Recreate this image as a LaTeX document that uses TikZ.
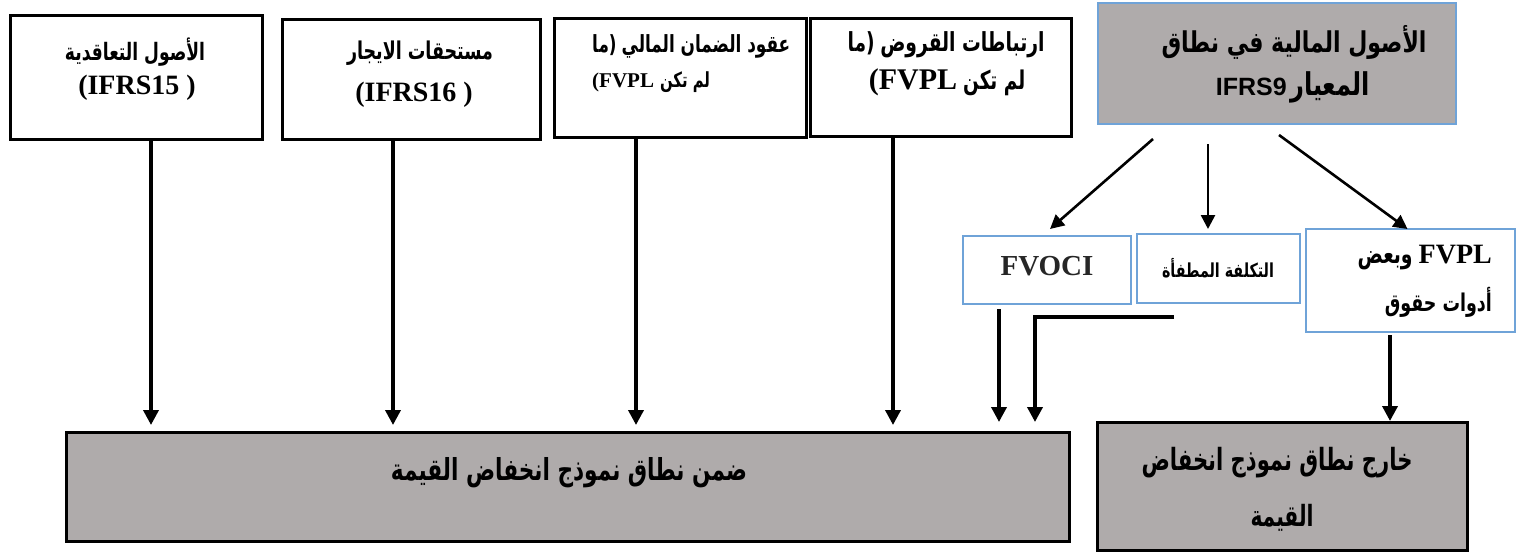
\documentclass[tikz,border=0pt]{standalone}
\usepackage{fontspec}
\usepackage{graphicx}
\usetikzlibrary{arrows.meta,calc}
\TeXXeTstate=1
\newfontfamily\arfont[Script=Arabic]{DejaVu Sans}
\newfontfamily\tnr{Liberation Serif}
\newfontfamily\ari{Liberation Sans}
\newcommand\AR[1]{{\arfont\bfseries\beginR #1\endR}}
\newcommand\arw[3][1.4]{\scalebox{1}[#1]{\resizebox{#2pt}{!}{#3}}}
\newcommand\lat[2]{{\fontsize{#1}{#1}\selectfont\tnr\bfseries #2}}
\definecolor{boxgray}{HTML}{AFABAB}
\definecolor{boxblue}{HTML}{6FA3D8}
\definecolor{txtdark}{HTML}{262626}
\begin{document}
\begin{tikzpicture}[x=1pt,y=-1pt,
  blk/.style={draw=black, line width=3pt, rectangle, inner sep=0pt, outer sep=0pt, anchor=north west},
  grayblk/.style={blk, fill=boxgray},
  bluebox/.style={draw=boxblue, line width=1.6pt, rectangle, inner sep=0pt, outer sep=0pt, anchor=north west},
  bluegray/.style={bluebox, fill=boxgray},
  txt/.style={inner sep=0pt, text=black, font=\fontsize{20}{24}\selectfont},
  arr/.style={line width=3.6pt, -{Triangle[length=15pt,width=15pt]}},
  arrs/.style={line width=2.6pt, -{Triangle[length=14pt,width=14pt]}}]
\useasboundingbox (0,0) rectangle (1523,552);

% boxes
\node[blk, minimum width=252pt, minimum height=124pt] (b1) at (10,15) {};
\node[blk, minimum width=258pt, minimum height=120pt] (b2) at (282,19) {};
\node[blk, minimum width=252pt, minimum height=119pt] (b3) at (554,18) {};
\node[blk, minimum width=261pt, minimum height=118pt] (b4) at (810,18) {};
\node[bluegray, minimum width=358pt, minimum height=121pt] (ifrs) at (1098,3) {};
\node[bluebox, minimum width=168pt, minimum height=68pt] (fvoci) at (963,236) {};
\node[bluebox, minimum width=163pt, minimum height=69pt] (amort) at (1137,234) {};
\node[bluebox, minimum width=209pt, minimum height=103pt] (fvpl) at (1306,229) {};
\node[grayblk, minimum width=1003pt, minimum height=109pt] (inbox) at (66,432) {};
\node[grayblk, minimum width=370pt, minimum height=128pt] (outbox) at (1097,422) {};

% texts
\node[txt] (t1a) at (135,52) {\arw{140}{\AR{الأصول التعاقدية}}};
\node[txt] (t1b) at (137,88) {\lat{28}{(IFRS15 )}};
\node[txt] (t2a) at (420,53) {\arw{146}{\AR{مستحقات الايجار}}};
\node[txt] (t2b) at (414,95) {\lat{28}{(IFRS16 )}};
\node[txt, anchor=west] (t3a) at (592,46) {\arw{198}{\AR{ما}{\arfont\bfseries (}\ \AR{عقود الضمان المالي}}};
\node[txt, anchor=west] (t3b) at (592,82) {\lat{21}{(FVPL}\ \arw{50}{\AR{لم تكن}}};
\node[txt] (t4a) at (946,45) {\arw{197}{\AR{ما}{\arfont\bfseries (}\ \AR{ارتباطات القروض}}};
\node[txt] (t4b) at (947,82) {\lat{30}{(FVPL}\ \arw{62}{\AR{لم تكن}}};
\node[txt] (t5a) at (1294,42) {\arw[1.3]{265}{\AR{الأصول المالية في نطاق}}};
\node[txt] (t5b) at (1293,87) {{\fontsize{25}{28}\selectfont\ari\bfseries IFRS9}\,\arw[1.3]{80}{\AR{المعيار}}};
\node[txt, text=txtdark] (t6) at (1047,266) {\lat{29}{FVOCI}};
\node[txt] (t7) at (1218,268) {\arw[1.35]{112}{\AR{التكلفة المطفأة}}};
\node[txt, anchor=east] (t8a) at (1492,258) {\arw{55}{\AR{وبعض}}\ \lat{28}{FVPL}};
\node[txt, anchor=east] (t8b) at (1492,302) {\arw{107}{\AR{أدوات حقوق}}};
\node[txt] (t9) at (569,473) {\arw{356}{\AR{ضمن نطاق نموذج انخفاض القيمة}}};
\node[txt] (t10a) at (1277,463) {\arw[1.45]{271}{\AR{خارج نطاق نموذج انخفاض}}};
\node[txt] (t10b) at (1282,518) {\arw[1.45]{63}{\AR{القيمة}}};

% connectors
\coordinate (x1) at (151,0);
\coordinate (x2) at (393,0);
\coordinate (x3) at (636,0);
\coordinate (x4) at (893,0);
\coordinate (x5) at (999,0);
\coordinate (x6) at (1035,0);
\coordinate (x7) at (1390,0);
\coordinate (ec) at (1174,317);
\coordinate (s1) at (1153,139);
\coordinate (s2) at (1208,144);
\coordinate (s3) at (1279,135);

\draw[arr, shorten >=7pt] (x1 |- b1.south) -- (x1 |- inbox.north);
\draw[arr, shorten >=7pt] (x2 |- b2.south) -- (x2 |- inbox.north);
\draw[arr, shorten >=7pt] (x3 |- b3.south) -- (x3 |- inbox.north);
\draw[arr, shorten >=7pt] (x4 |- b4.south) -- (x4 |- inbox.north);
\draw[arr, shorten <=5pt, shorten >=10pt] (x5 |- fvoci.south) -- (x5 |- inbox.north);
\draw[arr, shorten >=10pt] (ec) -| (x6 |- inbox.north);
\draw[arr, shorten <=3pt, shorten >=1pt] (x7 |- fvpl.south) -- (x7 |- outbox.north);

\draw[arrs] (s1) -- ([xshift=3pt,yshift=7pt]fvoci.north);
\draw[arrs, shorten >=5pt] (s2) -- (s2 |- amort.north);
\draw[arrs] (s3) -- ([xshift=-3pt]fvpl.north);
\end{tikzpicture}
\end{document}
